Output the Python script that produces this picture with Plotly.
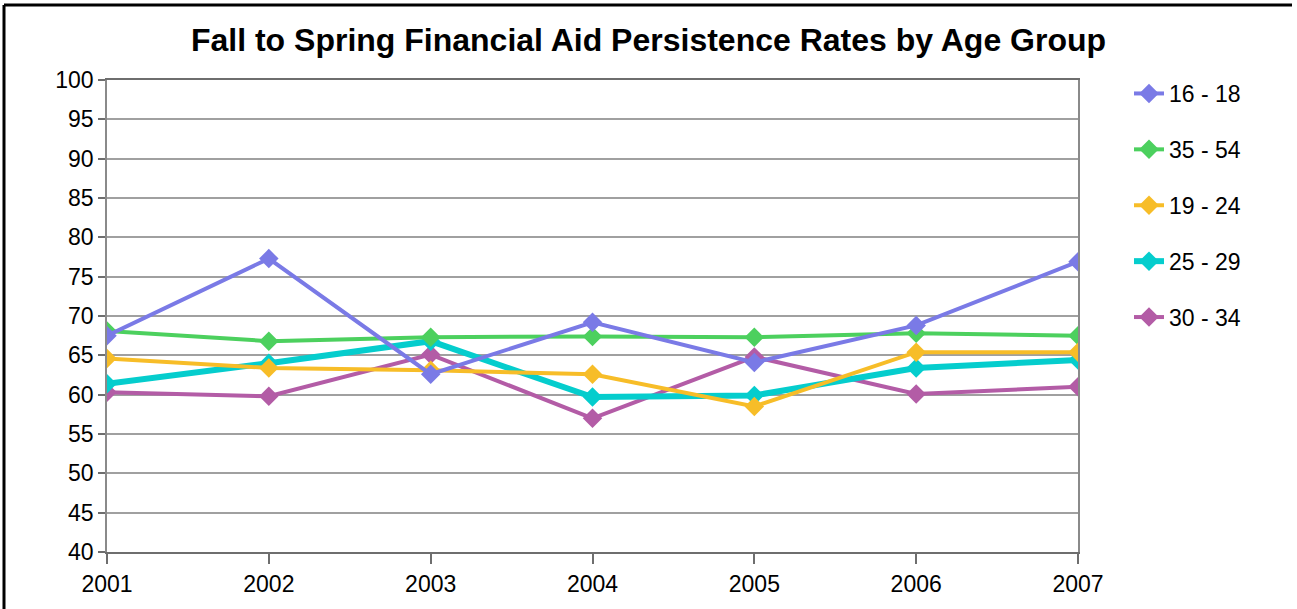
import plotly.graph_objects as go

W, H = 1297, 609

years = ["2001", "2002", "2003", "2004", "2005", "2006", "2007"]
s16_18 = [67.5, 77.3, 62.6, 69.2, 64.1, 68.8, 76.9]
s35_54 = [68.1, 66.8, 67.3, 67.4, 67.3, 67.8, 67.5]
s19_24 = [64.6, 63.4, 63.1, 62.6, 58.5, 65.4, 65.4]
s25_29 = [61.4, 64.0, 66.8, 59.7, 59.9, 63.4, 64.4]
s30_34 = [60.3, 59.8, 65.1, 57.0, 64.8, 60.1, 61.0]

y_ticks = list(range(40, 101, 5))

# (name, values, colour, line width, legend rank) in drawing order (bottom -> top)
series = [
    ("30 - 34", s30_34, "#B35CA6", 4, 5),
    ("25 - 29", s25_29, "#05CDCD", 6, 4),
    ("35 - 54", s35_54, "#4CD05E", 4, 2),
    ("19 - 24", s19_24, "#F7BD28", 4, 3),
    ("16 - 18", s16_18, "#7A7AE6", 4, 1),
]

fig = go.Figure()
for name, vals, col, lw, rank in series:
    fig.add_trace(go.Scatter(
        x=years, y=vals, name=name, mode="lines+markers",
        line=dict(color=col, width=lw),
        marker=dict(symbol="diamond", size=15, color=col),
        legendrank=rank, legendgroup=name,
    ))

L, R, T, B = 107, 1078, 80, 552

def px(x):
    return (x - L) / (R - L)

def py(y):
    return (B - y) / (B - T)

fig.update_layout(
    width=W, height=H,
    margin=dict(l=L, r=W - R, t=T, b=H - B),
    paper_bgcolor="white", plot_bgcolor="white",
    font=dict(family="Liberation Sans, Arial, sans-serif", size=23, color="black"),
    title=dict(text="<b>Fall to Spring Financial Aid Persistence Rates by Age Group</b>",
               x=0.5, xanchor="center", y=1 - 40 / H, yanchor="middle",
               font=dict(size=32, color="black")),
    showlegend=True,
    legend=dict(x=px(1129), xanchor="left", y=py(72), yanchor="top",
                font=dict(size=23), tracegroupgap=23, itemwidth=30,
                bgcolor="rgba(0,0,0,0)"),
    xaxis=dict(type="category", range=[0, 6], showgrid=False,
               showline=True, linecolor="#6e6e6e", linewidth=2, mirror=True,
               ticks="outside", ticklen=10, tickwidth=2, tickcolor="#6e6e6e",
               tickfont=dict(size=23), zeroline=False),
    yaxis=dict(range=[40, 100], tickvals=y_ticks, showgrid=True,
               gridcolor="#a0a0a0", gridwidth=1.5,
               showline=True, linecolor="#8a8a8a", linewidth=1.5, mirror=True,
               ticks="outside", ticklen=7, tickwidth=2, tickcolor="#6e6e6e",
               tickfont=dict(size=23), zeroline=False),
    shapes=[
        dict(type="line", xref="paper", yref="paper",
             x0=px(4), x1=px(4), y0=py(5), y1=py(620),
             line=dict(color="black", width=3)),
        dict(type="line", xref="paper", yref="paper",
             x0=px(4), x1=px(1292), y0=py(5), y1=py(5),
             line=dict(color="black", width=3)),
    ],
)

fig.write_html("out.html", config={"displayModeBar": False},
               post_script="document.body.style.margin='0';document.body.style.overflow='hidden';")
